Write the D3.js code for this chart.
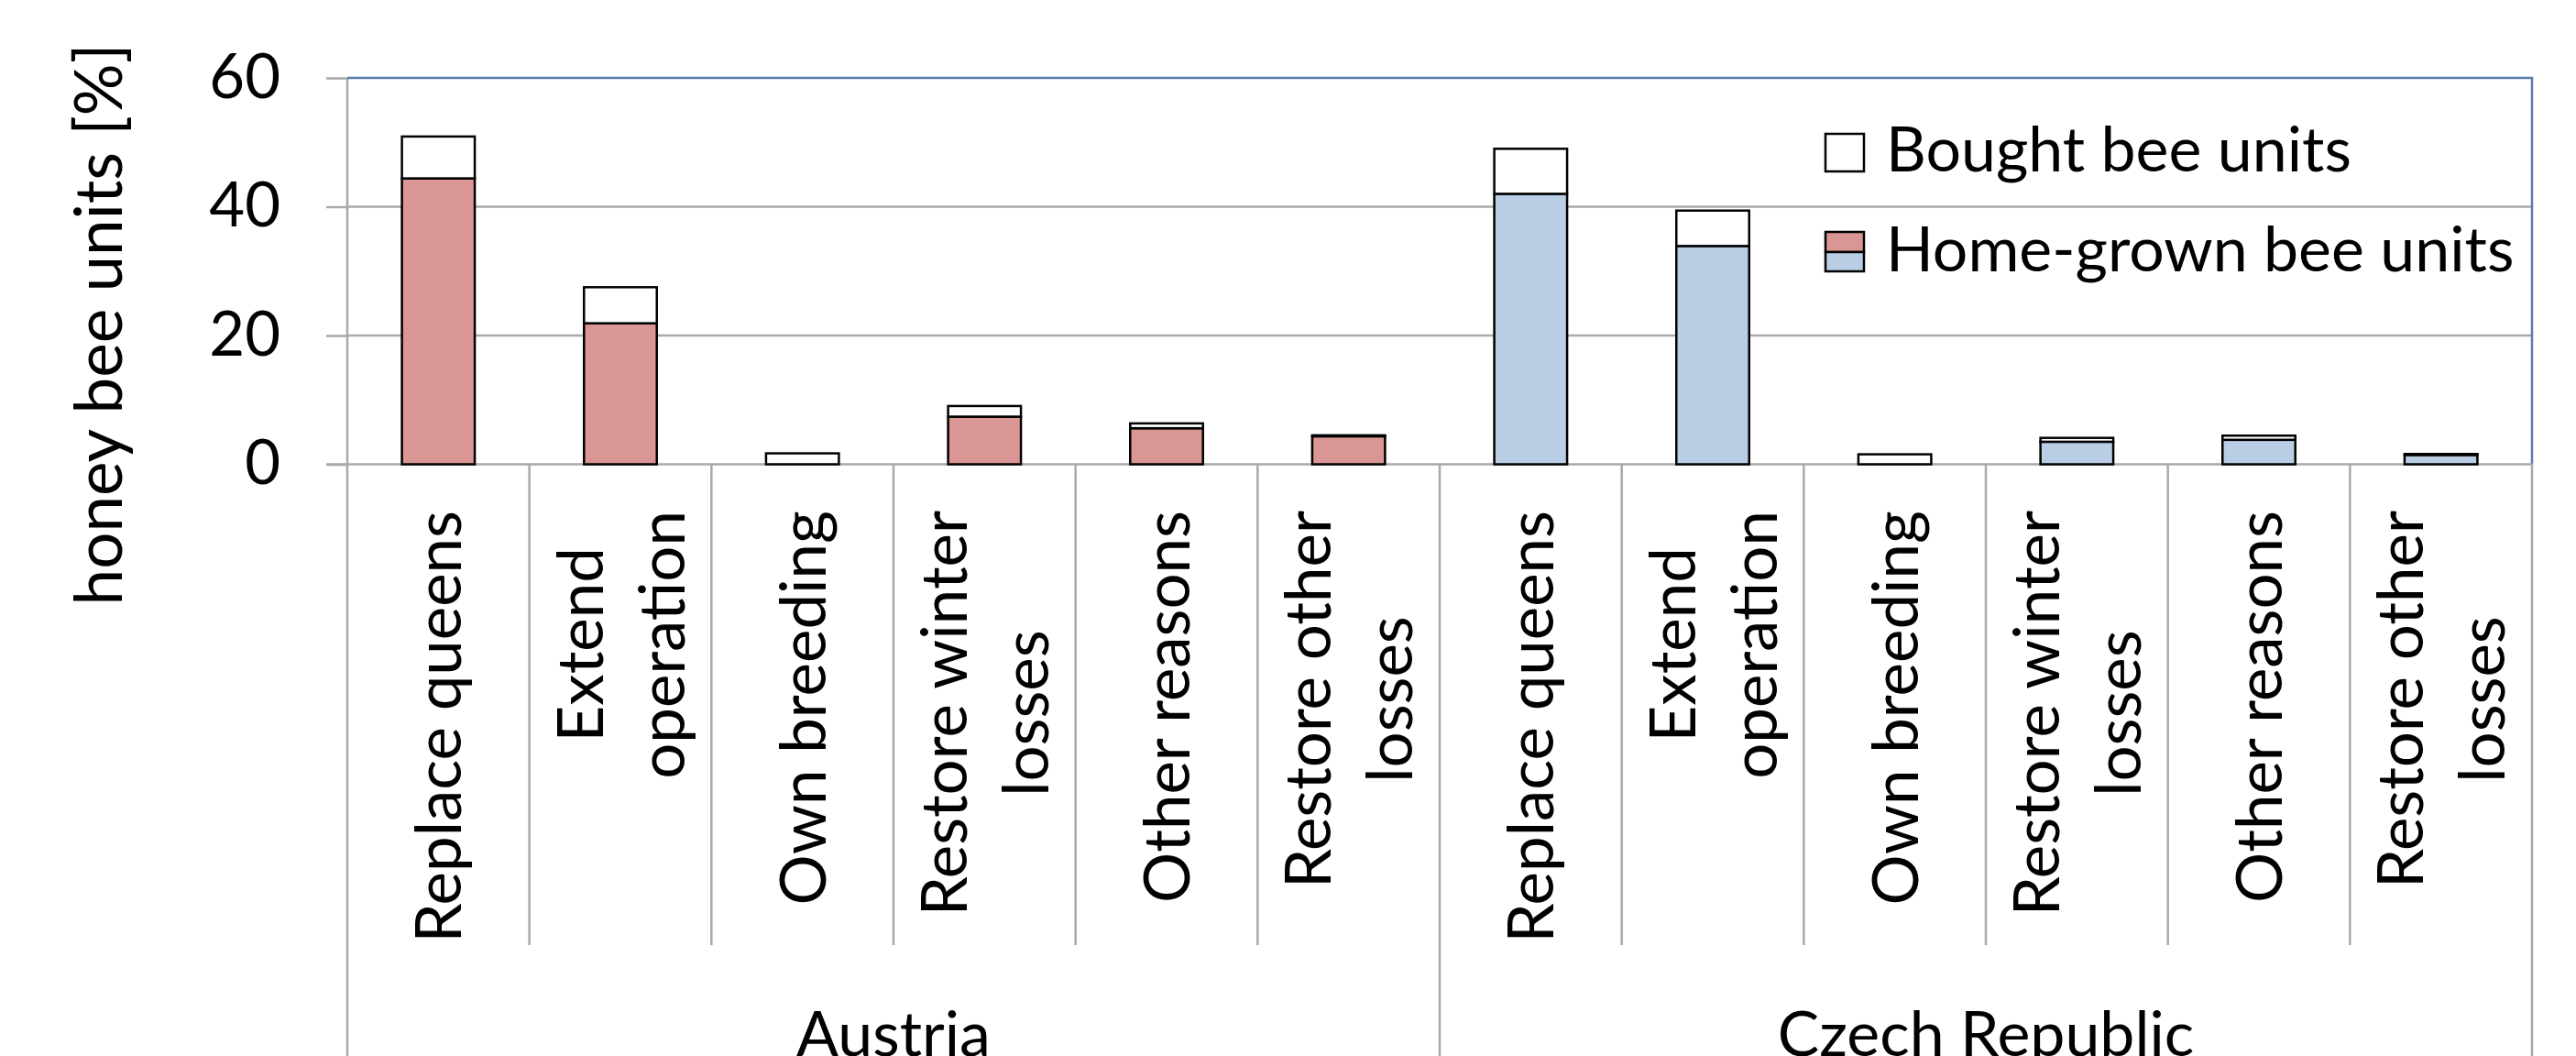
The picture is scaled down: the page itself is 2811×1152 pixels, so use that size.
<!DOCTYPE html>
<html>
<head>
<meta charset="utf-8">
<script src="https://cdn.jsdelivr.net/npm/d3@7"></script>
<style>
    body { margin: 0; background: #fff; }
    text { font-family: Lato, "Open Sans", sans-serif; fill: #000; }
</style>
</head>
<body>
<div id="chart"></div>
<script>
var groups          =   [ 'Austria', 'Czech Republic' ];
var reasons         =   [ 'Replace queens', 'Extend\noperation', 'Own breeding',
                          'Restore winter\nlosses', 'Other reasons', 'Restore other\nlosses' ];
var home_austria    =   [ 44.4, 21.9, 0, 7.4, 5.6, 4.35 ];
var bought_austria  =   [ 6.5, 5.6, 1.7, 1.65, 0.75, 0.15 ];
var home_czech      =   [ 42.0, 33.9, 0, 3.5, 3.8, 1.45 ];
var bought_czech    =   [ 7.0, 5.5, 1.55, 0.6, 0.65, 0.15 ];
var y_ticks         =   [ 0, 20, 40, 60 ];
var series_names    =   [ 'Bought bee units', 'Home-grown bee units' ];

var chart_width     =   2811;
var chart_height    =   1152;
var plot_left       =   379;
var plot_right      =   2763;
var plot_top        =   85;
var plot_bottom     =   506.5;
var grid_color      =   '#a9a9a9';
var border_color    =   '#5a7cad';
var fills           =   [ '#d99694', '#b9cde5' ];

// rows: one per bar
var rows = [];
groups.forEach(function(g, gi){
    var home = gi === 0 ? home_austria : home_czech;
    var bought = gi === 0 ? bought_austria : bought_czech;
    reasons.forEach(function(r, ri){
        rows.push({ index: rows.length, group: gi, label: r, home: home[ri], bought: bought[ri] });
    });
});

var svg             =   d3.select( '#chart' )
    .append( 'svg' )
    .attr( 'width', chart_width )
    .attr( 'height', chart_height );

// Scales
var x_scale         =   d3.scaleBand()
    .domain( d3.range( rows.length ) )
    .range([ plot_left, plot_right ]);

var y_scale         =   d3.scaleLinear()
    .domain([ 0, 60 ])
    .range([ plot_bottom, plot_top ]);

var x_edge = function(i){
    return plot_left + i * x_scale.step();
};

// Gridlines
svg.append( 'g' )
    .selectAll( 'line' )
    .data( y_ticks.filter(function(t){ return t > 0 && t < 60; }) )
    .enter()
    .append( 'line' )
    .attr( 'x1', plot_left )
    .attr( 'x2', plot_right )
    .attr( 'y1', function(d){ return y_scale(d); } )
    .attr( 'y2', function(d){ return y_scale(d); } )
    .attr( 'stroke', grid_color )
    .attr( 'stroke-width', 2.5 );

// Y axis
var y_axis          =   d3.axisLeft( y_scale )
    .tickValues( y_ticks )
    .tickSize( 23 )
    .tickPadding( 50 );

var y_g = svg.append( 'g' )
    .attr( 'transform', 'translate(' + plot_left + ',0)' )
    .call( y_axis );
y_g.select( '.domain' ).remove();
y_g.selectAll( '.tick line' )
    .attr( 'stroke', grid_color )
    .attr( 'stroke-width', 2.5 );
y_g.selectAll( '.tick text' )
    .attr( 'font-family', 'Lato, sans-serif' )
    .attr( 'font-size', 67 )
    .attr( 'fill', '#000' );

// Y title
svg.append( 'text' )
    .attr( 'transform', 'translate(133,354) rotate(-90)' )
    .attr( 'text-anchor', 'middle' )
    .attr( 'font-size', 71 )
    .text( 'honey bee units [%]' );

// Category separators
svg.append( 'g' )
    .selectAll( 'line' )
    .data( d3.range( rows.length + 1 ) )
    .enter()
    .append( 'line' )
    .attr( 'x1', x_edge )
    .attr( 'x2', x_edge )
    .attr( 'y1', plot_bottom )
    .attr( 'y2', function(i){ return i % reasons.length === 0 ? chart_height : 1031; } )
    .attr( 'stroke', grid_color )
    .attr( 'stroke-width', 2.5 );

// left axis line
svg.append( 'line' )
    .attr( 'x1', plot_left ).attr( 'x2', plot_left )
    .attr( 'y1', plot_top ).attr( 'y2', plot_bottom )
    .attr( 'stroke', grid_color )
    .attr( 'stroke-width', 2.5 );

// plot border, top and right
svg.append( 'path' )
    .attr( 'd', 'M' + plot_left + ',' + plot_top + 'H' + plot_right + 'V' + plot_bottom )
    .attr( 'fill', 'none' )
    .attr( 'stroke', border_color )
    .attr( 'stroke-width', 2.5 );

// bottom axis line
svg.append( 'line' )
    .attr( 'x1', plot_left - 23 ).attr( 'x2', plot_right )
    .attr( 'y1', plot_bottom ).attr( 'y2', plot_bottom )
    .attr( 'stroke', grid_color )
    .attr( 'stroke-width', 2.5 );

// Bars
var bar_w = x_scale.bandwidth() * 0.4;
var bar_x = function(d){
    return x_scale( d.index ) + ( x_scale.bandwidth() - bar_w ) / 2;
};

var bars = svg.append( 'g' )
    .selectAll( 'g' )
    .data( rows )
    .enter()
    .append( 'g' );

bars.filter(function(d){ return d.home > 0; })
    .append( 'rect' )
    .attr( 'x', bar_x )
    .attr( 'y', function(d){ return y_scale( d.home ); } )
    .attr( 'width', bar_w )
    .attr( 'height', function(d){ return y_scale(0) - y_scale( d.home ); } )
    .attr( 'fill', function(d){ return fills[ d.group ]; } )
    .attr( 'stroke', '#000' )
    .attr( 'stroke-width', 2.5 );

bars.append( 'rect' )
    .attr( 'x', bar_x )
    .attr( 'y', function(d){ return y_scale( d.home + d.bought ); } )
    .attr( 'width', bar_w )
    .attr( 'height', function(d){ return y_scale( d.home ) - y_scale( d.home + d.bought ); } )
    .attr( 'fill', '#fff' )
    .attr( 'stroke', '#000' )
    .attr( 'stroke-width', 2.5 );

// Category labels (rotated, lines centred in a block that starts below the axis)
var label_top = 557;
var line_gap = 89;
var label_size = 69;
rows.forEach(function(d){
    var lines = d.label.split( '\n' );
    var cx = x_scale( d.index ) + x_scale.bandwidth() / 2;
    // measure longest line
    var max_len = 0;
    lines.forEach(function(s){
        var tmp = svg.append( 'text' ).attr( 'font-size', label_size ).text( s );
        max_len = Math.max( max_len, tmp.node().getComputedTextLength() );
        tmp.remove();
    });
    var mid = label_top + max_len / 2;
    var base0 = cx + 25 - ( lines.length - 1 ) * line_gap / 2;
    lines.forEach(function(s, j){
        svg.append( 'text' )
            .attr( 'font-size', label_size )
            .attr( 'text-anchor', 'middle' )
            .attr( 'transform', 'translate(' + ( base0 + j * line_gap ) + ',' + mid + ') rotate(-90)' )
            .text( s );
    });
});

// Group labels
svg.append( 'g' )
    .selectAll( 'text' )
    .data( groups )
    .enter()
    .append( 'text' )
    .attr( 'x', function(d, i){ return ( x_edge( i * reasons.length ) + x_edge( ( i + 1 ) * reasons.length ) ) / 2; } )
    .attr( 'y', 1152 )
    .attr( 'text-anchor', 'middle' )
    .attr( 'font-size', 68 )
    .text(function(d){ return d; });

// Legend
var legend = svg.append( 'g' );
legend.append( 'rect' )
    .attr( 'x', 1992 ).attr( 'y', 146 )
    .attr( 'width', 42 ).attr( 'height', 41 )
    .attr( 'fill', '#fff' ).attr( 'stroke', '#000' ).attr( 'stroke-width', 2.5 );
legend.append( 'rect' )
    .attr( 'x', 1992 ).attr( 'y', 253 )
    .attr( 'width', 42 ).attr( 'height', 22 )
    .attr( 'fill', fills[0] ).attr( 'stroke', '#000' ).attr( 'stroke-width', 2.5 );
legend.append( 'rect' )
    .attr( 'x', 1992 ).attr( 'y', 275 )
    .attr( 'width', 42 ).attr( 'height', 21 )
    .attr( 'fill', fills[1] ).attr( 'stroke', '#000' ).attr( 'stroke-width', 2.5 );
legend.selectAll( 'text' )
    .data( series_names )
    .enter()
    .append( 'text' )
    .attr( 'x', 2058 )
    .attr( 'y', function(d, i){ return 187 + i * 109; } )
    .attr( 'font-size', 68 )
    .text(function(d){ return d; });
</script>
</body>
</html>
